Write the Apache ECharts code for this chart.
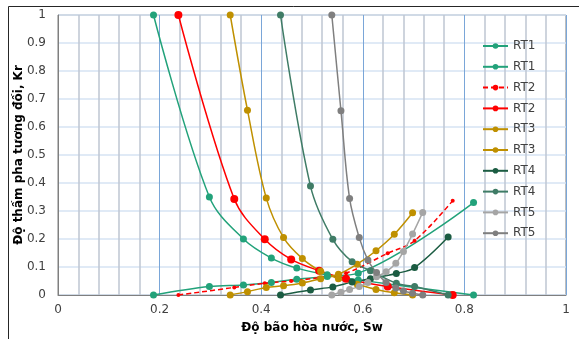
<!DOCTYPE html>
<html>
<head>
<meta charset="utf-8">
<script src="https://cdn.jsdelivr.net/npm/echarts@6/dist/echarts.min.js"></script>
<style>
  html, body { margin: 0; padding: 0; background: #fff; }
  #chart { width: 579px; height: 339px; }
</style>
</head>
<body>
<div id="chart"></div>
<script>
// Relative permeability curves (Kr vs water saturation Sw) for rock types RT1..RT5.
// Each rock type: a Krw curve (rising) and a Kro curve (falling) sampled at the same Sw.
const sw1 = [0.188, 0.298, 0.365, 0.42, 0.47, 0.53, 0.591, 0.818];
const krw1 = [0, 0.03, 0.036, 0.045, 0.056, 0.066, 0.078, 0.33];
const kro1 = [1, 0.35, 0.2, 0.132, 0.096, 0.072, 0.054, 0];

const sw2 = [0.237, 0.347, 0.407, 0.459, 0.514, 0.567, 0.649, 0.702, 0.777];
const krw2 = [0, 0.027, 0.042, 0.05, 0.062, 0.078, 0.149, 0.194, 0.337];
const kro2 = [1, 0.343, 0.199, 0.127, 0.087, 0.058, 0.03, null, 0];

const sw3 = [0.339, 0.373, 0.41, 0.444, 0.481, 0.517, 0.552, 0.589, 0.626, 0.662, 0.698];
const krw3 = [0, 0.012, 0.027, 0.033, 0.043, 0.058, 0.074, 0.11, 0.158, 0.217, 0.294];
const kro3 = [1, 0.66, 0.346, 0.205, 0.13, 0.085, 0.058, 0.038, 0.02, 0.008, 0];

const sw4 = [0.438, 0.497, 0.541, 0.579, 0.615, 0.666, 0.702, 0.768];
const krw4 = [0, 0.018, 0.029, 0.046, 0.058, 0.077, 0.098, 0.207];
const kro4 = [1, 0.389, 0.199, 0.119, 0.087, 0.042, 0.03, 0];

const sw5 = [0.539, 0.557, 0.574, 0.593, 0.61, 0.627, 0.646, 0.665, 0.68, 0.698, 0.718];
const krw5 = [0, 0.01, 0.02, 0.03, 0.045, 0.065, 0.083, 0.113, 0.155, 0.218, 0.295];
const kro5 = [1, 0.658, 0.345, 0.205, 0.125, 0.08, 0.045, 0.025, 0.014, 0.006, 0];

const xTitle = 'Độ bão hòa nước, Sw';
const yTitle = 'Độ thấm pha tương đối, Kr';

const FONT = 'DejaVu Sans';

function pairs(sw, kr) {
  return sw.map((s, i) => [s, kr[i]]);
}

function curve(name, sw, kr, color, opts) {
  opts = opts || {};
  return {
    name: name,
    type: 'line',
    data: pairs(sw, kr),
    smooth: 0.35,
    connectNulls: true,
    symbol: 'circle',
    symbolSize: opts.size || 7,
    showSymbol: true,
    lineStyle: { color: color, width: 1.5, type: opts.dash || 'solid' },
    itemStyle: { color: color },
    emphasis: { disabled: true },
    z: opts.z || 3
  };
}

const series = [
  curve('RT1 Krw', sw1, krw1, '#22a27a'),
  curve('RT1 Kro', sw1, kro1, '#22a27a'),
  curve('RT2 Krw', sw2, krw2, '#ff0000', { size: 4, dash: [5, 3] }),
  curve('RT2 Kro', sw2, kro2, '#ff0000', { size: 8 }),
  curve('RT3 Krw', sw3, krw3, '#bf9000'),
  curve('RT3 Kro', sw3, kro3, '#bf9000'),
  curve('RT4 Krw', sw4, krw4, '#1b5c42'),
  curve('RT4 Kro', sw4, kro4, '#3f7c66'),
  curve('RT5 Krw', sw5, krw5, '#a5a5a5'),
  curve('RT5 Kro', sw5, kro5, '#7f7f7f')
];

const chart = echarts.init(document.getElementById('chart'), null, { renderer: 'canvas' });

chart.setOption({
  animation: false,
  backgroundColor: '#ffffff',
  textStyle: { fontFamily: FONT },
  grid: {
    left: 58, top: 15, right: 13, bottom: 44,
    outerBoundsMode: 'none',
    containLabel: false,
    show: true, borderColor: '#7f7f7f', borderWidth: 1, backgroundColor: 'transparent'
  },
  legend: {
    orient: 'vertical',
    left: 482, top: 39,
    padding: 0,
    itemWidth: 25, itemHeight: 7, itemGap: 6.8,
    data: series.map(s => s.name),
    formatter: name => name.split(' ')[0],
    textStyle: { fontFamily: FONT, fontSize: 12, color: '#404040', lineHeight: 14 },
    selectedMode: false
  },
  xAxis: {
    type: 'value',
    min: 0, max: 1, interval: 0.2,
    name: xTitle,
    nameLocation: 'middle',
    nameGap: 27,
    nameMoveOverlap: false,
    nameTextStyle: { fontFamily: FONT, fontSize: 12, fontWeight: 'bold', color: '#000' },
    axisLine: { show: true, lineStyle: { color: '#7f7f7f', width: 1 } },
    axisTick: { show: false },
    axisLabel: { fontFamily: FONT, fontSize: 12, color: '#404040', margin: 9 },
    splitLine: { show: true, lineStyle: { color: '#7aa6d8', width: 1 } },
    minorTick: { show: false, splitNumber: 5 },
    minorSplitLine: { show: true, lineStyle: { color: '#bfc6d2', width: 1.5 } }
  },
  yAxis: {
    type: 'value',
    min: 0, max: 1, interval: 0.1,
    name: yTitle,
    nameLocation: 'middle',
    nameGap: 33,
    nameRotate: 90,
    nameMoveOverlap: false,
    nameTextStyle: { fontFamily: FONT, fontSize: 12, fontWeight: 'bold', color: '#000' },
    axisLine: { show: true, lineStyle: { color: '#7f7f7f', width: 1 } },
    axisTick: { show: false },
    axisLabel: { fontFamily: FONT, fontSize: 12, color: '#404040', margin: 12 },
    splitLine: { show: true, lineStyle: { color: '#d6e3f3', width: 1.5 } }
  },
  graphic: [
    { type: 'line', shape: { x1: 8.5, y1: 6.5, x2: 579, y2: 6.5 }, style: { stroke: '#262626', lineWidth: 1 }, silent: true },
    { type: 'line', shape: { x1: 8.5, y1: 6.5, x2: 8.5, y2: 339 }, style: { stroke: '#262626', lineWidth: 1 }, silent: true }
  ],
  series: series
});
</script>
</body>
</html>
